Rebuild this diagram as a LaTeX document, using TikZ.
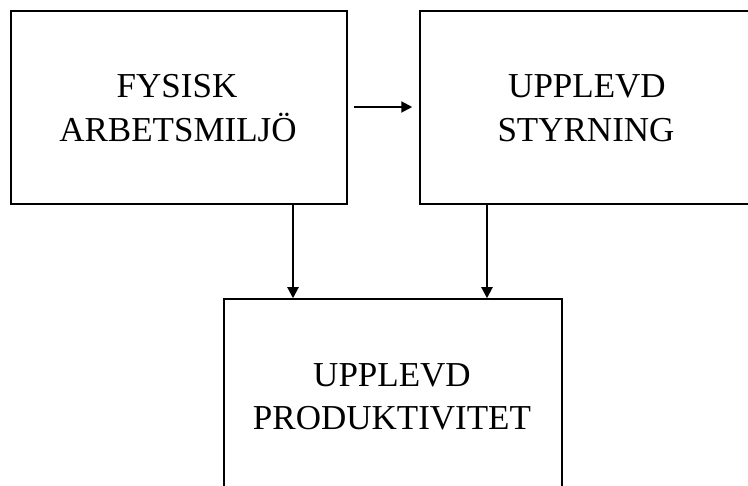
\documentclass[tikz,border=0pt]{standalone}
\usepackage{fontspec}
\setmainfont{Liberation Serif}
\usetikzlibrary{arrows.meta}
\begin{document}
\begin{tikzpicture}[x=1pt,y=-1pt,
  box/.style={draw=black, line width=1.5pt, fill=none, inner sep=0pt},
  lbl/.style={anchor=base, inner sep=0pt, font=\fontsize{35pt}{44pt}\selectfont},
  arr/.style={draw=black, line width=2pt, -{Triangle[length=11pt,width=11pt]}}]
\useasboundingbox (0,0) rectangle (748,486);
\clip (0,0) rectangle (748,486);
\fill[white] (0,0) rectangle (748,486);
\node[box, minimum width=336pt, minimum height=193pt] (b1) at (179,107.5) {};
\node[box, minimum width=332pt, minimum height=193pt] (b2) at (586,107.5) {};
\node[box, minimum width=338pt, minimum height=260pt] (b3) at (393,429) {};
\node[lbl] (t1a) at (177,98) {FYSISK};
\node[lbl] (t1b) at (178,142) {ARBETSMILJÖ};
\node[lbl] (t2a) at (587,98) {UPPLEVD};
\node[lbl] (t2b) at (586,142) {STYRNING};
\node[lbl] (t3a) at (392,387) {UPPLEVD};
\node[lbl] (t3b) at (392,430) {PRODUKTIVITET};
\coordinate (c1) at (293,0);
\coordinate (c2) at (487,0);
\draw[arr] ([xshift=6pt,yshift=0.5pt]b1.east) -- ([xshift=-7pt,yshift=0.5pt]b2.west);
\draw[arr] (b1.south -| c1) -- (b3.north -| c1);
\draw[arr] (b2.south -| c2) -- (b3.north -| c2);
\end{tikzpicture}
\end{document}
